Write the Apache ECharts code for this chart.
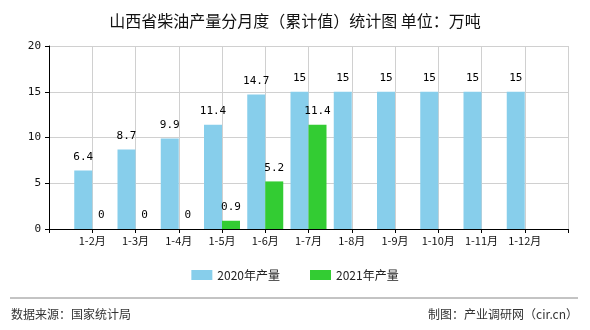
<!DOCTYPE html>
<html>
<head>
<meta charset="utf-8">
<script src="https://cdn.jsdelivr.net/npm/echarts@6/dist/echarts.min.js"></script>
<style>
  html, body { margin: 0; padding: 0; background: #fff; }
  #chart { width: 590px; height: 330px; }
</style>
</head>
<body>
<div id="chart"></div>
<script>
// Month categories (padded with blank slots at both ends of the axis)
const categories = ['', '1-2月', '1-3月', '1-4月', '1-5月', '1-6月', '1-7月', '1-8月', '1-9月', '1-10月', '1-11月', '1-12月', ''];
const output2020 = [null, 6.4, 8.7, 9.9, 11.4, 14.7, 15, 15, 15, 15, 15, 15, null];
const output2021 = [null, 0, 0, 0, 0.9, 5.2, 11.4, null, null, null, null, null, null];
const yTicks = { min: 0, max: 20, interval: 5 };

const cjk = '"Noto Sans CJK SC", "Noto Sans", sans-serif';
const mono = '"DejaVu Sans Mono", "Liberation Mono", monospace';

const chart = echarts.init(document.getElementById('chart'));
chart.setOption({
  animation: false,
  title: {
    text: '山西省柴油产量分月度（累计值）统计图 单位：万吨',
    left: 'center',
    top: 8,
    textStyle: { fontFamily: cjk, fontSize: 16, fontWeight: 'normal', color: '#111' }
  },
  legend: {
    bottom: 44,
    left: 'center',
    icon: 'rect',
    itemWidth: 21,
    itemHeight: 10,
    itemGap: 30,
    textStyle: { fontFamily: cjk, fontSize: 12, color: '#222' },
    data: ['2020年产量', '2021年产量']
  },
  grid: { left: 49, right: 22, top: 46, bottom: 101, containLabel: false },
  xAxis: {
    type: 'category',
    data: categories,
    boundaryGap: false,
    axisLine: { lineStyle: { color: '#000', width: 1 } },
    axisTick: { show: true, length: 4, lineStyle: { color: '#000' } },
    axisLabel: { fontFamily: cjk, fontSize: 11, color: '#111', margin: 6, interval: 0 },
    splitLine: { show: true, lineStyle: { color: '#d0d0d0' } }
  },
  yAxis: {
    type: 'value',
    min: yTicks.min,
    max: yTicks.max,
    interval: yTicks.interval,
    axisLine: { show: true, lineStyle: { color: '#000', width: 1 } },
    axisTick: { show: true, length: 4, lineStyle: { color: '#000' } },
    axisLabel: { fontFamily: mono, fontSize: 11, color: '#111', margin: 8 },
    splitLine: { show: true, lineStyle: { color: '#d0d0d0' } }
  },
  series: [
    {
      name: '2020年产量',
      type: 'bar',
      data: output2020,
      barWidth: 18,
      barGap: '0%',
      itemStyle: { color: '#87CEEB' },
      label: { show: true, position: 'top', distance: 8, fontFamily: mono, fontSize: 11, color: '#000' }
    },
    {
      name: '2021年产量',
      type: 'bar',
      data: output2021,
      barWidth: 18,
      barGap: '0%',
      itemStyle: { color: '#33CC33' },
      label: { show: true, position: 'top', distance: 8, fontFamily: mono, fontSize: 11, color: '#000' }
    }
  ],
  graphic: [
    {
      type: 'line',
      shape: { x1: 10, y1: 298, x2: 578, y2: 298 },
      style: { stroke: '#888', lineWidth: 1 }
    },
    {
      type: 'text',
      left: 11,
      top: 308,
      style: { text: '数据来源：国家统计局', fontFamily: cjk, fontSize: 12, fill: '#333' }
    },
    {
      type: 'text',
      right: 12,
      top: 308,
      style: { text: '制图：产业调研网（cir.cn）', fontFamily: cjk, fontSize: 12, fill: '#333' }
    }
  ]
});
</script>
</body>
</html>
